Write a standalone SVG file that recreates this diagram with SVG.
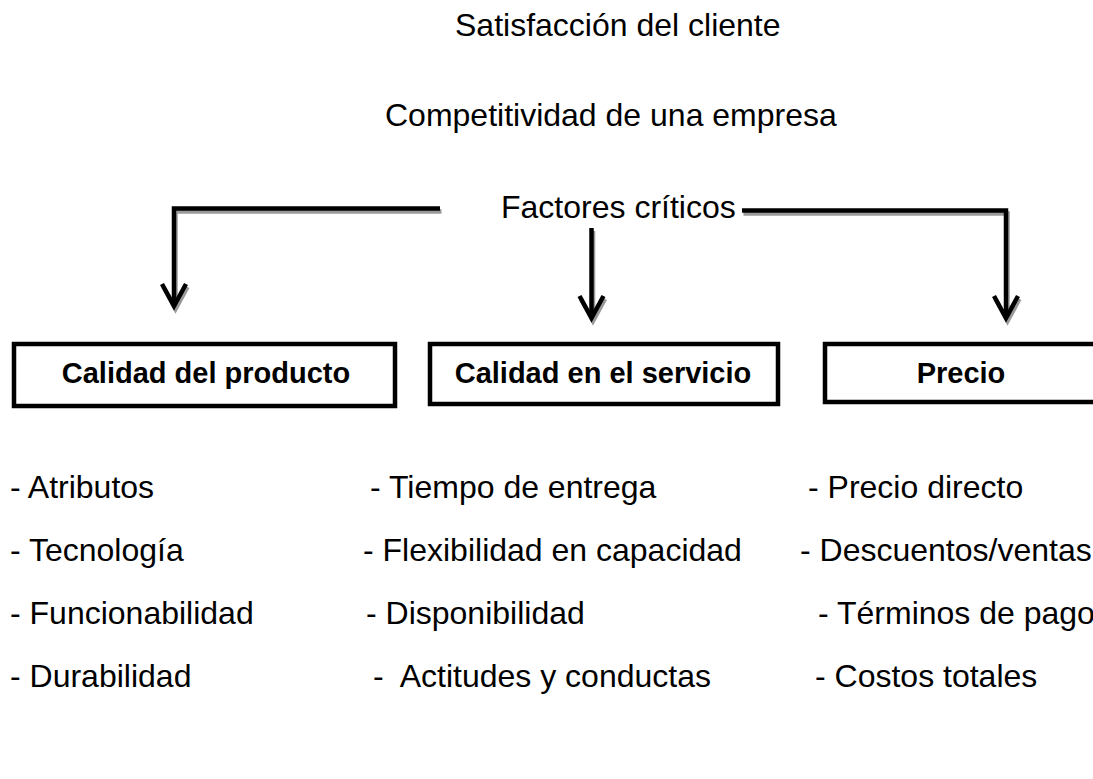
<svg xmlns="http://www.w3.org/2000/svg" width="1093" height="779" viewBox="0 0 1093 779">
<style>
text{font-family:"Liberation Sans",Arial,sans-serif;fill:#000}
.t{font-size:32px}
.b{font-size:29px;font-weight:bold;text-anchor:middle}
.box{fill:#fff;stroke:#000;stroke-width:4.5}
.ln{fill:none;stroke:#000;stroke-width:4.5;stroke-linejoin:miter}
.sh{fill:none;stroke:#9a9a9a;stroke-width:4.5}
</style>
<rect width="1093" height="779" fill="#fff"/>
<g id="titles">
<text class="t" x="455" y="36">Satisfacción del cliente</text>
<text class="t" x="385" y="126">Competitividad de una empresa</text>
<text class="t" x="501" y="218">Factores críticos</text>
</g>
<g id="connectors">
<g transform="translate(1.5,3)">
<polyline class="sh" points="440,208.5 174,208.5 174,306"/>
<polyline class="sh" points="162,284 174,306 186,284"/>
<polyline class="sh" points="591.5,228 591.5,318"/>
<polyline class="sh" points="579.5,296 591.5,318 603.5,296"/>
<polyline class="sh" points="742,210.5 1006,210.5 1006,318"/>
<polyline class="sh" points="994,296 1006,318 1018,296"/>
</g>
<polyline class="ln" points="440,208.5 174,208.5 174,306"/>
<polyline class="ln" points="162,284 174,306 186,284"/>
<polyline class="ln" points="591.5,228 591.5,318"/>
<polyline class="ln" points="579.5,296 591.5,318 603.5,296"/>
<polyline class="ln" points="742,210.5 1006,210.5 1006,318"/>
<polyline class="ln" points="994,296 1006,318 1018,296"/>
</g>
<g id="box-producto">
<rect class="box" x="14" y="344" width="381" height="62"/>
<text class="b" x="206" y="383">Calidad del producto</text>
</g>
<g id="box-servicio">
<rect class="box" x="430" y="344" width="348" height="60"/>
<text class="b" x="603" y="383">Calidad en el servicio</text>
</g>
<g id="box-precio">
<rect class="box" x="825" y="344" width="275" height="58"/>
<text class="b" x="961" y="383">Precio</text>
</g>
<g id="list-producto">
<text class="t" x="10" y="498">- Atributos</text>
<text class="t" x="10" y="561">- Tecnología</text>
<text class="t" x="10" y="624">- Funcionabilidad</text>
<text class="t" x="10" y="687">- Durabilidad</text>
</g>
<g id="list-servicio">
<text class="t" x="370" y="498">- Tiempo de entrega</text>
<text class="t" x="363" y="561">- Flexibilidad en capacidad</text>
<text class="t" x="366" y="624">- Disponibilidad</text>
<text class="t" x="373" y="687" xml:space="preserve">-  Actitudes y conductas</text>
</g>
<g id="list-precio">
<text class="t" x="808" y="498">- Precio directo</text>
<text class="t" x="800" y="561">- Descuentos/ventas</text>
<text class="t" x="818" y="624">- Términos de pago</text>
<text class="t" x="815" y="687">- Costos totales</text>
</g>
</svg>
